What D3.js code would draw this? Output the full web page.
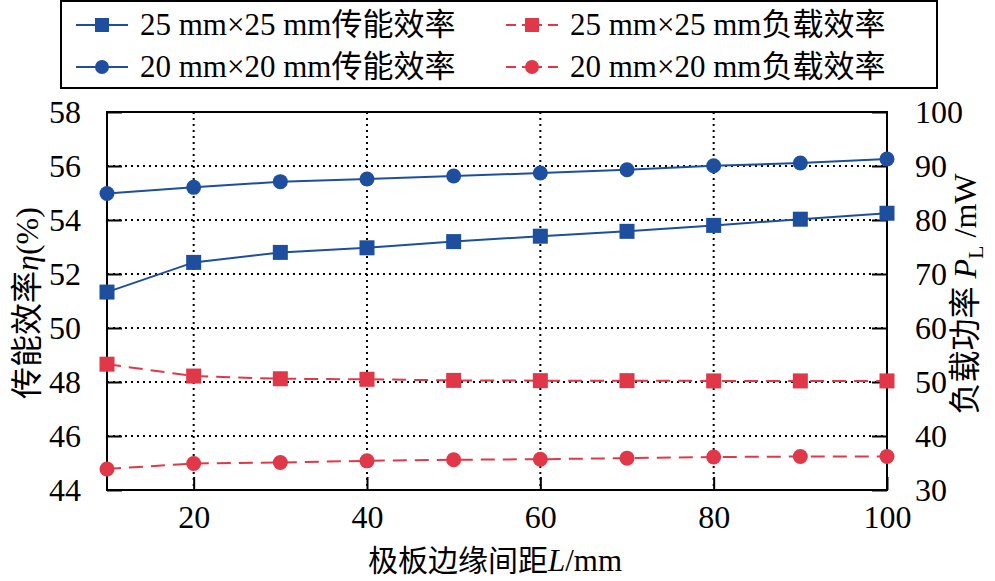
<!DOCTYPE html>
<html><head><meta charset="utf-8">
<script src="https://cdn.jsdelivr.net/npm/d3@7"></script>
<style>
body{margin:0;background:#fff;}
svg text{font-family:"Liberation Serif","Times New Roman",serif;fill:#000;}
svg text tspan.cjk{font-family:"Noto Sans CJK SC",sans-serif;}
</style></head>
<body><svg id="c" width="995" height="581"></svg>
<script>
const distances = [10,20,30,40,50,60,70,80,90,100];
const eff25 = [51.33,52.43,52.8,52.97,53.2,53.4,53.58,53.8,54.03,54.25];
const eff20 = [54.98,55.21,55.42,55.52,55.63,55.74,55.86,56.01,56.11,56.26];
const load25 = [53.3,51.1,50.6,50.5,50.3,50.25,50.25,50.2,50.2,50.2];
const load20 = [33.9,34.9,35.1,35.4,35.6,35.7,35.9,36.1,36.2,36.2];
const xTicks = [20,40,60,80,100];
const yLeftTicks = [44,46,48,50,52,54,56,58];
const yRightTicks = [30,40,50,60,70,80,90,100];
const legendLabels = ["25 mm×25 mm传能效率","25 mm×25 mm负载效率","20 mm×20 mm传能效率","20 mm×20 mm负载效率"];

const BLUE="#1d4f9e", RED="#e03848";
const SERIF='"Liberation Serif","Times New Roman",serif';
const svg=d3.select("#c");
const L=107,R=887,T=112,B=490;
const x=d3.scaleLinear().domain([10,100]).range([L,R]);
const yl=d3.scaleLinear().domain([44,58]).range([B,T]);
const yr=d3.scaleLinear().domain([30,100]).range([B,T]);

// grid
const g=svg.append("g");
xTicks.forEach(t=>{ if(t<100) g.append("line").attr("x1",x(t)).attr("x2",x(t)).attr("y1",T).attr("y2",B)
  .attr("stroke","#000").attr("stroke-width",2).attr("stroke-dasharray","2,4");});
yLeftTicks.forEach(t=>{ if(t>44&&t<58) g.append("line").attr("x1",L).attr("x2",R).attr("y1",yl(t)).attr("y2",yl(t))
  .attr("stroke","#000").attr("stroke-width",2).attr("stroke-dasharray","2,4");});

// axes
const fs=32;
const axB=svg.append("g").attr("transform",`translate(0,${B})`).call(d3.axisBottom(x).tickValues(xTicks).tickSizeInner(-13).tickSizeOuter(0).tickPadding(20));
const axL=svg.append("g").attr("transform",`translate(${L},0)`).call(d3.axisLeft(yl).tickValues(yLeftTicks).tickSizeInner(-15).tickSizeOuter(0).tickPadding(26));
const axR=svg.append("g").attr("transform",`translate(${R},0)`).call(d3.axisRight(yr).tickValues(yRightTicks).tickSizeInner(-15).tickSizeOuter(0).tickPadding(28));
[axB,axL,axR].forEach(a=>{a.attr("font-family",null);a.select(".domain").remove();a.selectAll("line").attr("stroke","#000").attr("stroke-width",2);
  a.selectAll("text").style("font-family",SERIF).style("font-size",fs+"px");});
axB.selectAll("text").attr("dy","0.55em");
svg.append("rect").attr("x",L).attr("y",T).attr("width",R-L).attr("height",B-T).attr("fill","none").attr("stroke","#000").attr("stroke-width",2);

// series
function series(vals,ys,color,dash,shape){
  const line=d3.line().x((d,i)=>x(distances[i])).y(d=>ys(d));
  svg.append("path").datum(vals).attr("d",line).attr("fill","none").attr("stroke",color).attr("stroke-width",2)
    .attr("stroke-dasharray",dash?"14,8":null);
  vals.forEach((v,i)=>{
    if(shape==="sq") svg.append("rect").attr("x",x(distances[i])-7.5).attr("y",ys(v)-7.5).attr("width",15).attr("height",15).attr("fill",color);
    else svg.append("circle").attr("cx",x(distances[i])).attr("cy",ys(v)).attr("r",7.5).attr("fill",color);
  });
}
series(load25,yr,RED,true,"sq");
series(load20,yr,RED,true,"ci");
series(eff25,yl,BLUE,false,"sq");
series(eff20,yl,BLUE,false,"ci");

// axis titles
svg.append("text").attr("x",495).attr("y",571).attr("text-anchor","middle").attr("font-size",31)
  .html('<tspan class="cjk" font-size="30">极板边缘间距</tspan><tspan font-style="italic">L</tspan>/mm');
svg.append("text").attr("transform","translate(38,303) rotate(-90)").attr("text-anchor","middle").attr("font-size",fs)
  .html('<tspan class="cjk">传能效率</tspan><tspan font-style="italic">η</tspan>(%)');
svg.append("text").attr("transform","translate(976,294) rotate(-90)").attr("text-anchor","middle").attr("font-size",fs)
  .html('<tspan class="cjk">负载功率</tspan> <tspan font-style="italic">P</tspan><tspan font-size="22" dy="7">L</tspan><tspan dy="-7"> /mW</tspan>');

// legend
svg.append("rect").attr("x",61).attr("y",1).attr("width",876).attr("height",87).attr("fill","#fff").attr("stroke","#000").attr("stroke-width",2);
const items=[
  {lab:legendLabels[0],c:BLUE,d:false,s:"sq",x:76,y:25},
  {lab:legendLabels[1],c:RED,d:true,s:"sq",x:506,y:25},
  {lab:legendLabels[2],c:BLUE,d:false,s:"ci",x:76,y:67},
  {lab:legendLabels[3],c:RED,d:true,s:"ci",x:506,y:67}];
items.forEach(it=>{
  svg.append("line").attr("x1",it.x).attr("x2",it.x+52).attr("y1",it.y).attr("y2",it.y).attr("stroke",it.c).attr("stroke-width",2)
    .attr("stroke-dasharray",it.d?"10,6,20,6,10":null);
  if(it.s==="sq") svg.append("rect").attr("x",it.x+19).attr("y",it.y-7).attr("width",14).attr("height",14).attr("fill",it.c);
  else svg.append("circle").attr("cx",it.x+26).attr("cy",it.y).attr("r",7).attr("fill",it.c);
  const m=it.lab.match(/^(.*mm)(.*)$/);
  svg.append("text").attr("x",it.x+64).attr("y",it.y+10).attr("font-size",31)
    .html(`<tspan>${m[1]}</tspan><tspan class="cjk" font-size="31">${m[2]}</tspan>`);
});
</script></body></html>
